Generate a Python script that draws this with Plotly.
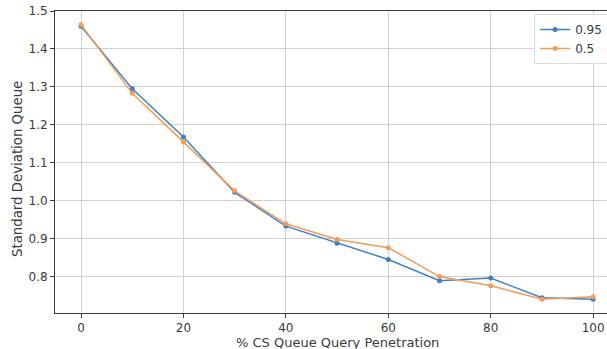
import plotly.graph_objects as go

# Query penetration (%) on the x axis
penetration = [0, 10, 20, 30, 40, 50, 60, 70, 80, 90, 100]

# Standard deviation of the queue for each quantile setting
std_095 = [1.460, 1.295, 1.168, 1.022, 0.933, 0.888, 0.845, 0.789, 0.796, 0.744, 0.740]
std_05 = [1.464, 1.283, 1.155, 1.026, 0.939, 0.898, 0.876, 0.800, 0.776, 0.740, 0.747]

series_names = ["0.95", "0.5"]
series_colors = ["#4180c0", "#f29c55"]

x_ticks = [0, 20, 40, 60, 80, 100]
y_ticks = [0.8, 0.9, 1.0, 1.1, 1.2, 1.3, 1.4, 1.5]

x_title = "% CS Queue Query Penetration"
y_title = "Standard Deviation Queue"

font_family = "DejaVu Sans"
axis_color = "#3a3a3a"
grid_color = "#d0d0d0"

fig = go.Figure()
for name, values, color in zip(series_names, [std_095, std_05], series_colors):
    fig.add_trace(
        go.Scatter(
            x=penetration,
            y=values,
            name=name,
            mode="lines+markers",
            line=dict(color=color, width=1.5),
            marker=dict(color=color, size=5),
        )
    )

fig.update_layout(
    width=607,
    height=349,
    margin=dict(l=55, r=0, t=11, b=36, autoexpand=False),
    paper_bgcolor="white",
    plot_bgcolor="white",
    font=dict(family=font_family, size=11, color=axis_color),
    legend=dict(
        x=0.868,
        y=0.99,
        xanchor="left",
        yanchor="top",
        bgcolor="rgba(255,255,255,0.8)",
        bordercolor="#dddddd",
        borderwidth=1,
        font=dict(size=12, color=axis_color),
        itemwidth=30,
        tracegroupgap=0,
    ),
    showlegend=True,
)

# Axis titles placed as annotations so they sit centred on the full axes span
fig.add_annotation(
    text=x_title, xref="paper", yref="paper", x=0.511, y=0, yshift=-29.5,
    xanchor="center", yanchor="middle", showarrow=False,
    font=dict(size=13, color=axis_color),
)
fig.add_annotation(
    text=y_title, xref="paper", yref="paper", x=0, xshift=-37, y=0.477,
    xanchor="center", yanchor="middle", textangle=-90, showarrow=False,
    font=dict(size=13.3, color=axis_color),
)

fig.update_xaxes(
    range=[-5.08, 102.7],
    tickmode="array",
    tickvals=x_ticks,
    ticktext=[str(v) for v in x_ticks],
    ticks="outside",
    ticklen=4,
    tickcolor=axis_color,
    tickfont=dict(size=12),
    showgrid=True,
    gridcolor=grid_color,
    gridwidth=1,
    zeroline=False,
    showline=True,
    linecolor=axis_color,
    linewidth=1,
    mirror=True,
)

fig.update_yaxes(
    range=[0.704, 1.5],
    tickmode="array",
    tickvals=y_ticks,
    ticktext=[f"{v:.1f}" for v in y_ticks],
    ticks="outside",
    ticklen=4,
    tickcolor=axis_color,
    tickfont=dict(size=12),
    showgrid=True,
    gridcolor=grid_color,
    gridwidth=1,
    zeroline=False,
    showline=True,
    linecolor=axis_color,
    linewidth=1,
)

fig.write_html("out.html")
